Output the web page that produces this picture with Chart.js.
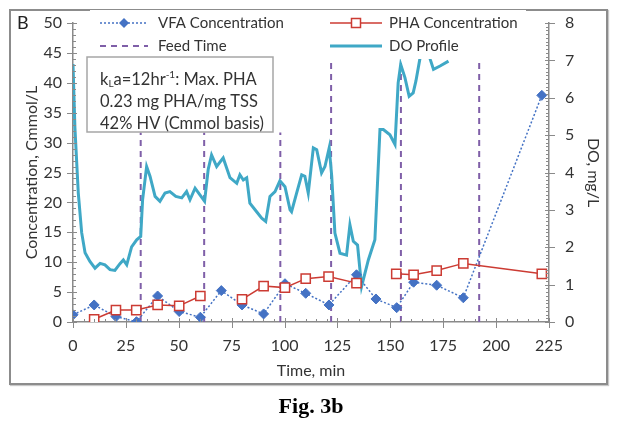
<!DOCTYPE html>
<html>
<head>
<meta charset="utf-8">
<script src="https://cdn.jsdelivr.net/npm/chart.js@4.4.0/dist/chart.umd.min.js"></script>
<style>
  body { margin: 0; background: #fff; }
  #wrap { position: relative; width: 618px; height: 429px; }
  #frame { position: absolute; left: 9px; top: 9px; width: 595px; height: 372px;
           border: 2px solid #8c8c8c; box-shadow: 1px 1px 1px #c8c8c8; }
  #cap { position: absolute; left: 0; top: 393px; width: 622px; text-align: center;
         font: bold 22px "Liberation Serif", serif; color: #000; }
  canvas { position: absolute; left: 0; top: 0; }
</style>
</head>
<body>
<div id="wrap">
  <div id="frame"></div>
  <canvas id="chart" width="618" height="429"></canvas>
  <div id="cap">Fig. 3b</div>
</div>
<script>
// VFA concentration, Cmmol/L
const vfaTime = [0, 10, 20.3, 30, 40, 50.2, 60.2, 70.1, 79.9, 90.1, 100.2, 110, 121, 134, 143.2, 153, 161, 171.9, 184.5, 221.6];
const vfaConc = [1.2, 2.85, 0.9, 0.05, 4.35, 1.75, 0.8, 5.25, 2.85, 1.35, 6.4, 4.8, 2.85, 7.9, 3.85, 2.4, 6.65, 6.15, 4.05, 37.9];

// PHA concentration, Cmmol/L (null = missing sample)
const phaTime = [10, 20.3, 29.9, 40, 50.2, 60.2, 70, 79.9, 90.1, 100.2, 110, 120.8, 134, 143, 152.8, 161, 171.9, 184.5, 221.6];
const phaConc = [0.45, 2.0, 2.0, 2.85, 2.7, 4.35, null, 3.8, 6.0, 5.75, 7.25, 7.6, 6.5, null, 8.05, 7.9, 8.6, 9.8, 8.05];

// feed times, min, and how far each marker line reaches on the left axis
const feedTime = [32, 62, 98, 122, 155, 192];
const feedTop = [31.7, 31.7, 31.7, 43.4, 43.4, 43.4];

// dissolved oxygen, mg/L
const doTime = [0, 0.9, 2.5, 4.1, 5.7, 8, 10.4, 12.8, 15.1, 17.5, 19.8, 22.2, 23.8, 25.4, 27.7, 30.1, 32,
  32.9, 34.8, 36.4, 38.8, 41.1, 43.5, 45.8, 48.6, 51.4, 53.7, 55.3, 57.7, 60, 62.2,
  63.9, 65.5, 67.9, 71, 74.2, 77.4, 78.9, 80.5, 82.1, 83.6, 86.8, 89.2, 91.1, 93.1, 95.5, 97.8,
  100.2, 102.6, 103.3, 105.7, 108.1, 109.6, 111.2, 113.6, 115.2, 117.5, 119.1, 121.1, 122.3,
  123.8, 126.2, 129.3, 130.9, 132.5, 134.5, 136.4, 138.8, 139.6, 142.7, 145.1, 146.7, 149.8, 152.2,
  153.7, 154.9, 156.9, 158.9, 160.8, 162.1, 163.9, 166, 168.9, 170.4, 173.5, 177.5];
const doValue = [6.9, 5.2, 3.45, 2.39, 1.85, 1.62, 1.44, 1.57, 1.53, 1.4, 1.38, 1.56, 1.66, 1.53, 2.01, 2.2, 2.29,
  3.27, 4.16, 3.9, 3.36, 3.23, 3.45, 3.49, 3.36, 3.32, 3.49, 3.27, 3.58, 3.4, 3.23,
  4.08, 4.47, 4.16, 4.39, 3.86, 3.71, 3.94, 3.8, 3.86, 3.18, 2.95, 2.78, 2.69, 3.36, 3.49, 3.78,
  3.62, 3.0, 2.95, 3.45, 3.94, 3.9, 3.45, 4.66, 4.61, 3.99, 4.16, 4.66, 3.9,
  2.38, 1.84, 1.79, 2.6, 2.16, 2.06, 0.95, 1.48, 1.66, 2.2, 5.15, 5.15, 5.01, 4.75,
  6.4, 6.89, 6.54, 6.04, 6.13, 6.45, 7.02, 7.6, 7.02, 6.76, 6.85, 6.98];

const xTicks = [0, 25, 50, 75, 100, 125, 150, 175, 200, 225];
const concTicks = [0, 5, 10, 15, 20, 25, 30, 35, 40, 45, 50];
const doTicks = [0, 1, 2, 3, 4, 5, 6, 7, 8];

const BLUE = "#4472C4";
const RED = "#CC3B33";
const PURPLE = "#7F5FA8";
const CYAN = "#3FA8C6";
const AXIS = "#8a8a8a";
const TEXT = "#333333";
const FONT = "Lato";

const pairs = (xs, ys) => xs.map((t, i) => ({ x: t, y: ys[i] }));

const feedPoints = [];
feedTime.forEach((t, i) => {
  feedPoints.push({ x: t, y: 0 }, { x: t, y: feedTop[i] }, { x: t, y: null });
});

function drawDiamond(ctx, x, y, r) {
  ctx.beginPath();
  ctx.moveTo(x, y - r); ctx.lineTo(x + r, y); ctx.lineTo(x, y + r); ctx.lineTo(x - r, y);
  ctx.closePath();
  ctx.fillStyle = BLUE; ctx.fill();
}

const decorations = {
  id: "decorations",
  afterDatasetsDraw(chart) {
    const ctx = chart.ctx;
    const sx = chart.scales.x, sy = chart.scales.y, sy2 = chart.scales.y2;
    const a = chart.chartArea;
    ctx.save();

    // tick marks: majors cross the axis, minors point inward
    ctx.strokeStyle = AXIS;
    ctx.lineWidth = 1;
    ctx.beginPath();
    for (let v = 0; v <= 225; v += 5) {
      const px = Math.round(sx.getPixelForValue(v)) + 0.5;
      const major = v % 25 === 0;
      ctx.moveTo(px, a.bottom - (major ? 4 : 3));
      ctx.lineTo(px, a.bottom + (major ? 6 : 0));
    }
    for (let v = 0; v <= 50; v += 1) {
      const py = Math.round(sy.getPixelForValue(v)) + 0.5;
      const major = v % 5 === 0;
      ctx.moveTo(a.left - (major ? 6 : 0), py);
      ctx.lineTo(a.left + (major ? 4 : 3), py);
    }
    for (let k = 0; k <= 80; k += 1) {
      const py = Math.round(sy2.getPixelForValue(k / 10)) + 0.5;
      const major = k % 10 === 0;
      ctx.moveTo(a.right - (major ? 4 : 3), py);
      ctx.lineTo(a.right + (major ? 6 : 0), py);
    }
    ctx.stroke();

    // legend (white box sitting on the plot)
    ctx.fillStyle = "#fff";
    ctx.fillRect(90, 10, 436, 49);
    ctx.font = "15px " + FONT;
    ctx.textBaseline = "middle";
    ctx.fillStyle = TEXT;
    const r1 = 23, r2 = 46;

    ctx.strokeStyle = BLUE; ctx.lineWidth = 1.5; ctx.setLineDash([2, 2]);
    ctx.beginPath(); ctx.moveTo(100, r1); ctx.lineTo(148, r1); ctx.stroke();
    ctx.setLineDash([]);
    drawDiamond(ctx, 124, r1, 5);
    ctx.fillStyle = TEXT;
    ctx.fillText("VFA Concentration", 158, r1);

    ctx.strokeStyle = PURPLE; ctx.lineWidth = 2; ctx.setLineDash([6, 5]);
    ctx.beginPath(); ctx.moveTo(100, r2); ctx.lineTo(148, r2); ctx.stroke();
    ctx.setLineDash([]);
    ctx.fillText("Feed Time", 158, r2);

    ctx.strokeStyle = RED; ctx.lineWidth = 1.5;
    ctx.beginPath(); ctx.moveTo(330, r1); ctx.lineTo(382, r1); ctx.stroke();
    ctx.fillStyle = "#fff";
    ctx.fillRect(351.5, r1 - 4.5, 9, 9);
    ctx.strokeRect(351.5, r1 - 4.5, 9, 9);
    ctx.fillStyle = TEXT;
    ctx.fillText("PHA Concentration", 389, r1);

    ctx.strokeStyle = CYAN; ctx.lineWidth = 3;
    ctx.beginPath(); ctx.moveTo(330, r2); ctx.lineTo(382, r2); ctx.stroke();
    ctx.fillText("DO Profile", 389, r2);

    // note box
    ctx.fillStyle = "#fff";
    ctx.fillRect(87, 57, 186, 75);
    ctx.strokeStyle = "#a6a6a6"; ctx.lineWidth = 1.5;
    ctx.strokeRect(87, 57, 186, 75);
    ctx.fillStyle = TEXT;
    let tx = 100;
    const l1 = 80;
    ctx.font = "16.5px " + FONT;
    ctx.fillText("k", tx, l1); tx += ctx.measureText("k").width;
    ctx.font = "10px " + FONT;
    ctx.fillText("L", tx, l1 + 4); tx += ctx.measureText("L").width;
    ctx.font = "16.5px " + FONT;
    ctx.fillText("a=12hr", tx, l1); tx += ctx.measureText("a=12hr").width;
    ctx.font = "10px " + FONT;
    ctx.fillText("-1", tx, l1 - 5); tx += ctx.measureText("-1").width;
    ctx.font = "16.5px " + FONT;
    ctx.fillText(": Max. PHA", tx, l1);
    ctx.fillText("0.23 mg PHA/mg TSS", 100, 102);
    ctx.fillText("42% HV (Cmmol basis)", 100, 124);

    // panel letter
    ctx.font = "18px " + FONT;
    ctx.fillStyle = "#222";
    ctx.fillText("B", 17, 23);
    ctx.restore();
  }
};

const tickFont = { family: FONT, size: 16 };
const titleFont = { family: FONT, size: 16 };

new Chart(document.getElementById("chart").getContext("2d"), {
  type: "line",
  data: {
    datasets: [
      {
        label: "PHA Concentration",
        data: pairs(phaTime, phaConc),
        yAxisID: "y",
        borderColor: RED,
        borderWidth: 1.5,
        pointStyle: "rect",
        pointRadius: 6.5,
        pointBackgroundColor: "#fff",
        pointBorderColor: RED,
        pointBorderWidth: 1.5,
        order: 0
      },
      {
        label: "VFA Concentration",
        data: pairs(vfaTime, vfaConc),
        yAxisID: "y",
        borderColor: BLUE,
        borderWidth: 1.5,
        borderDash: [2, 2],
        pointStyle: "rectRot",
        pointRadius: 5,
        pointBackgroundColor: BLUE,
        pointBorderColor: BLUE,
        pointBorderWidth: 1,
        order: 1
      },
      {
        label: "DO Profile",
        data: pairs(doTime, doValue),
        yAxisID: "y2",
        borderColor: CYAN,
        borderWidth: 3,
        pointRadius: 0,
        order: 2
      },
      {
        label: "Feed Time",
        data: feedPoints,
        yAxisID: "y",
        borderColor: PURPLE,
        borderWidth: 2,
        borderDash: [6, 5],
        pointRadius: 0,
        order: 3
      }
    ]
  },
  options: {
    responsive: false,
    animation: false,
    layout: { padding: { top: 23, bottom: 45, left: 0, right: 0 } },
    plugins: { legend: { display: false }, tooltip: { enabled: false } },
    scales: {
      x: {
        type: "linear",
        min: 0, max: 225,
        afterBuildTicks: s => { s.ticks = xTicks.map(v => ({ value: v })); },
        ticks: { font: tickFont, color: TEXT, padding: 8, maxRotation: 0 },
        grid: { drawOnChartArea: false, tickLength: 6, tickColor: "rgba(0,0,0,0)" },
        border: { color: AXIS, width: 1.5 },
        title: { display: true, text: "Time, min", font: titleFont, color: TEXT, padding: { top: 0, bottom: 4 } },
        afterFit: s => { s.height = 62; }
      },
      y: {
        position: "left",
        min: 0, max: 50,
        afterBuildTicks: s => { s.ticks = concTicks.map(v => ({ value: v })); },
        ticks: { font: tickFont, color: TEXT, padding: 5 },
        grid: { drawOnChartArea: false, tickLength: 6, tickColor: "rgba(0,0,0,0)" },
        border: { color: AXIS, width: 1.5 },
        title: { display: true, text: "Concentration, Cmmol/L", font: titleFont, color: TEXT, padding: { top: 22, bottom: 0 } },
        afterFit: s => { s.width = 73; }
      },
      y2: {
        position: "right",
        min: 0, max: 8,
        afterBuildTicks: s => { s.ticks = doTicks.map(v => ({ value: v })); },
        ticks: { font: tickFont, color: TEXT, padding: 10 },
        grid: { drawOnChartArea: false, tickLength: 6, tickColor: "rgba(0,0,0,0)" },
        border: { color: AXIS, width: 1.5 },
        title: { display: true, text: "DO, mg/L", font: titleFont, color: TEXT, padding: { top: 15, bottom: 0 } },
        afterFit: s => { s.width = 69; }
      }
    }
  },
  plugins: [decorations]
});
</script>
</body>
</html>
